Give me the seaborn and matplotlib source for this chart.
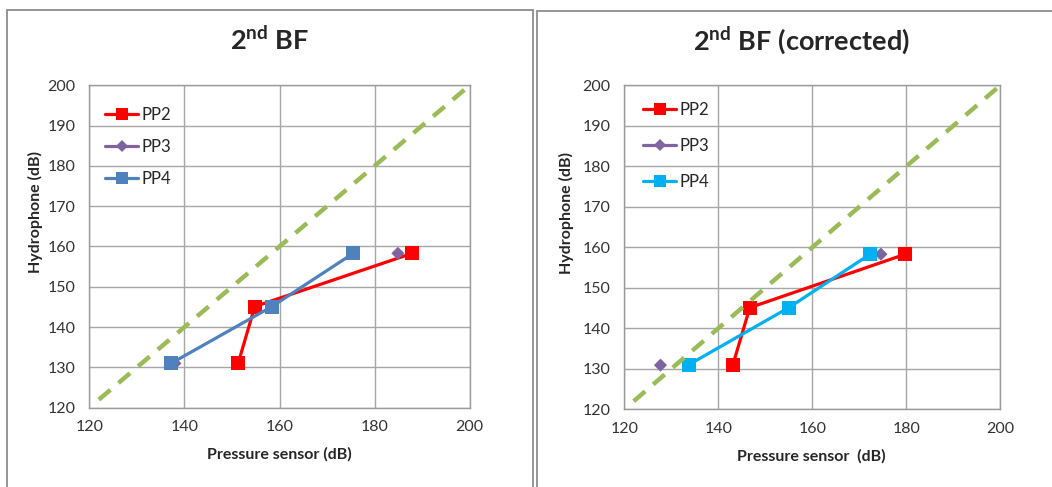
import numpy as np
import pandas as pd
import seaborn as sns
import matplotlib.pyplot as plt
from matplotlib.lines import Line2D
from matplotlib.patches import Rectangle

# Values (pressure sensor dB, hydrophone dB)
hydro = [131.0, 145.1, 158.3]

pp2_raw = [151.3, 154.8, 187.9]
pp3_raw = [138.0, 184.9]
pp3_raw_y = [131.0, 158.3]
pp4_raw = [137.2, 158.4, 175.5]

pp2_cor = [143.1, 146.7, 179.8]
pp3_cor = [127.7, 174.6]
pp3_cor_y = [130.9, 158.3]
pp4_cor = [133.7, 155.0, 172.3]

diag = [122, 200]

ticks = [120, 140, 160, 180, 200]
yticks = [120, 130, 140, 150, 160, 170, 180, 190, 200]

titles = [r'2$^{\mathbf{nd}}$ BF', r'2$^{\mathbf{nd}}$ BF (corrected)']
xlabels = ['Pressure sensor (dB)', 'Pressure sensor  (dB)']
ylabel = 'Hydrophone (dB)'

sns.set_style('white')
plt.rcParams['font.family'] = ['Lato', 'DejaVu Sans']
plt.rcParams['mathtext.fontset'] = 'custom'
plt.rcParams['mathtext.rm'] = 'Lato'
plt.rcParams['mathtext.bf'] = 'Lato:bold'

red = '#FF0000'
purple = '#8064A2'
blue_l = '#4F81BD'
blue_r = '#00B0F0'
green = '#9BBB59'

W, H = 1052, 487
fig = plt.figure(figsize=(W / 100, H / 100), dpi=100)

# panel borders (pixel coords)
for x0, y0, x1 in [(6.5, 9.5, 533), (536.5, 10.5, 1070)]:
    fig.add_artist(Rectangle((x0 / W, -0.05), (x1 - x0) / W, (H - y0) / H + 0.05,
                             transform=fig.transFigure, fill=False,
                             edgecolor='#8c8c8c', linewidth=1.3))

panels = [
    dict(rect=[89.3, 85.3, 469.7, 407.7], pp2=pp2_raw, pp3=pp3_raw, pp3y=pp3_raw_y,
         pp4=pp4_raw, c4=blue_l, tx=270, ylab=(35, 212), xlab=(279.5, 454),
         leg=(105, 107), lsp=0.95),
    dict(rect=[624.3, 85.3, 1000.3, 409.3], pp2=pp2_cor, pp3=pp3_cor, pp3y=pp3_cor_y,
         pp4=pp4_cor, c4=blue_r, tx=801, ylab=(566.7, 213), xlab=(811.7, 456.7),
         leg=(643, 102), lsp=1.2),
]

for i, p in enumerate(panels):
    l, t, r, b = p['rect']
    ax = fig.add_axes([l / W, (H - b) / H, (r - l) / W, (b - t) / H])

    sns.lineplot(x=p['pp2'], y=hydro, sort=False, ax=ax, color=red, linewidth=2.3,
                 marker='s', markersize=9.5, markeredgecolor=red, markeredgewidth=0)
    sns.scatterplot(x=p['pp3'], y=p['pp3y'], ax=ax, color=purple, marker='D', s=45,
                    edgecolor='none', zorder=3)
    sns.lineplot(x=p['pp4'], y=hydro, sort=False, ax=ax, color=p['c4'], linewidth=2.3,
                 marker='s', markersize=9.5, markeredgecolor=p['c4'], markeredgewidth=0,
                 zorder=4)
    sns.lineplot(x=diag, y=diag, ax=ax, color=green, linewidth=3.2,
                 dashes=(3.4, 2.4), zorder=5)

    ax.set_xlim(120, 200)
    ax.set_ylim(120, 200)
    ax.set_xticks(ticks)
    ax.set_yticks(yticks)
    ax.tick_params(length=0, labelsize=11.5, colors='#333333', pad=10)
    ax.tick_params(axis='x', pad=9)
    ax.grid(True, color='#A6A6A6', linewidth=1.0)
    for s in ax.spines.values():
        s.set_color('#9a9a9a')
        s.set_linewidth(1.0)

    ax.set_xlabel(xlabels[i], fontsize=11.5, fontweight='bold')
    ax.set_ylabel(ylabel, fontsize=11.5, fontweight='bold')
    ax.xaxis.set_label_coords((p['xlab'][0] - l) / (r - l), (b - p['xlab'][1]) / (b - t))
    ax.yaxis.set_label_coords((p['ylab'][0] - l) / (r - l), (b - p['ylab'][1]) / (b - t))
    ax.xaxis.label.set_va('center')
    ax.yaxis.label.set_va('center')

    handles = [
        Line2D([], [], color=red, linewidth=2.3, marker='s', markersize=8, markeredgewidth=0),
        Line2D([], [], color=purple, linewidth=2.3, marker='D', markersize=6, markeredgewidth=0),
        Line2D([], [], color=p['c4'], linewidth=2.3, marker='s', markersize=8, markeredgewidth=0),
    ]
    lx, ly = p['leg']
    ax.legend(handles, ['PP2', 'PP3', 'PP4'], loc='upper left', frameon=False,
              bbox_to_anchor=((lx - l) / (r - l), (b - ly) / (b - t)),
              borderaxespad=0, borderpad=0, fontsize=12, handlelength=2.0,
              handletextpad=0.2, labelspacing=p['lsp'])

    fig.text(p['tx'] / W, (H - 50) / H, titles[i], ha='center', va='baseline',
             fontsize=19.5, fontweight='bold')

fig.savefig('out.png', dpi=100)
